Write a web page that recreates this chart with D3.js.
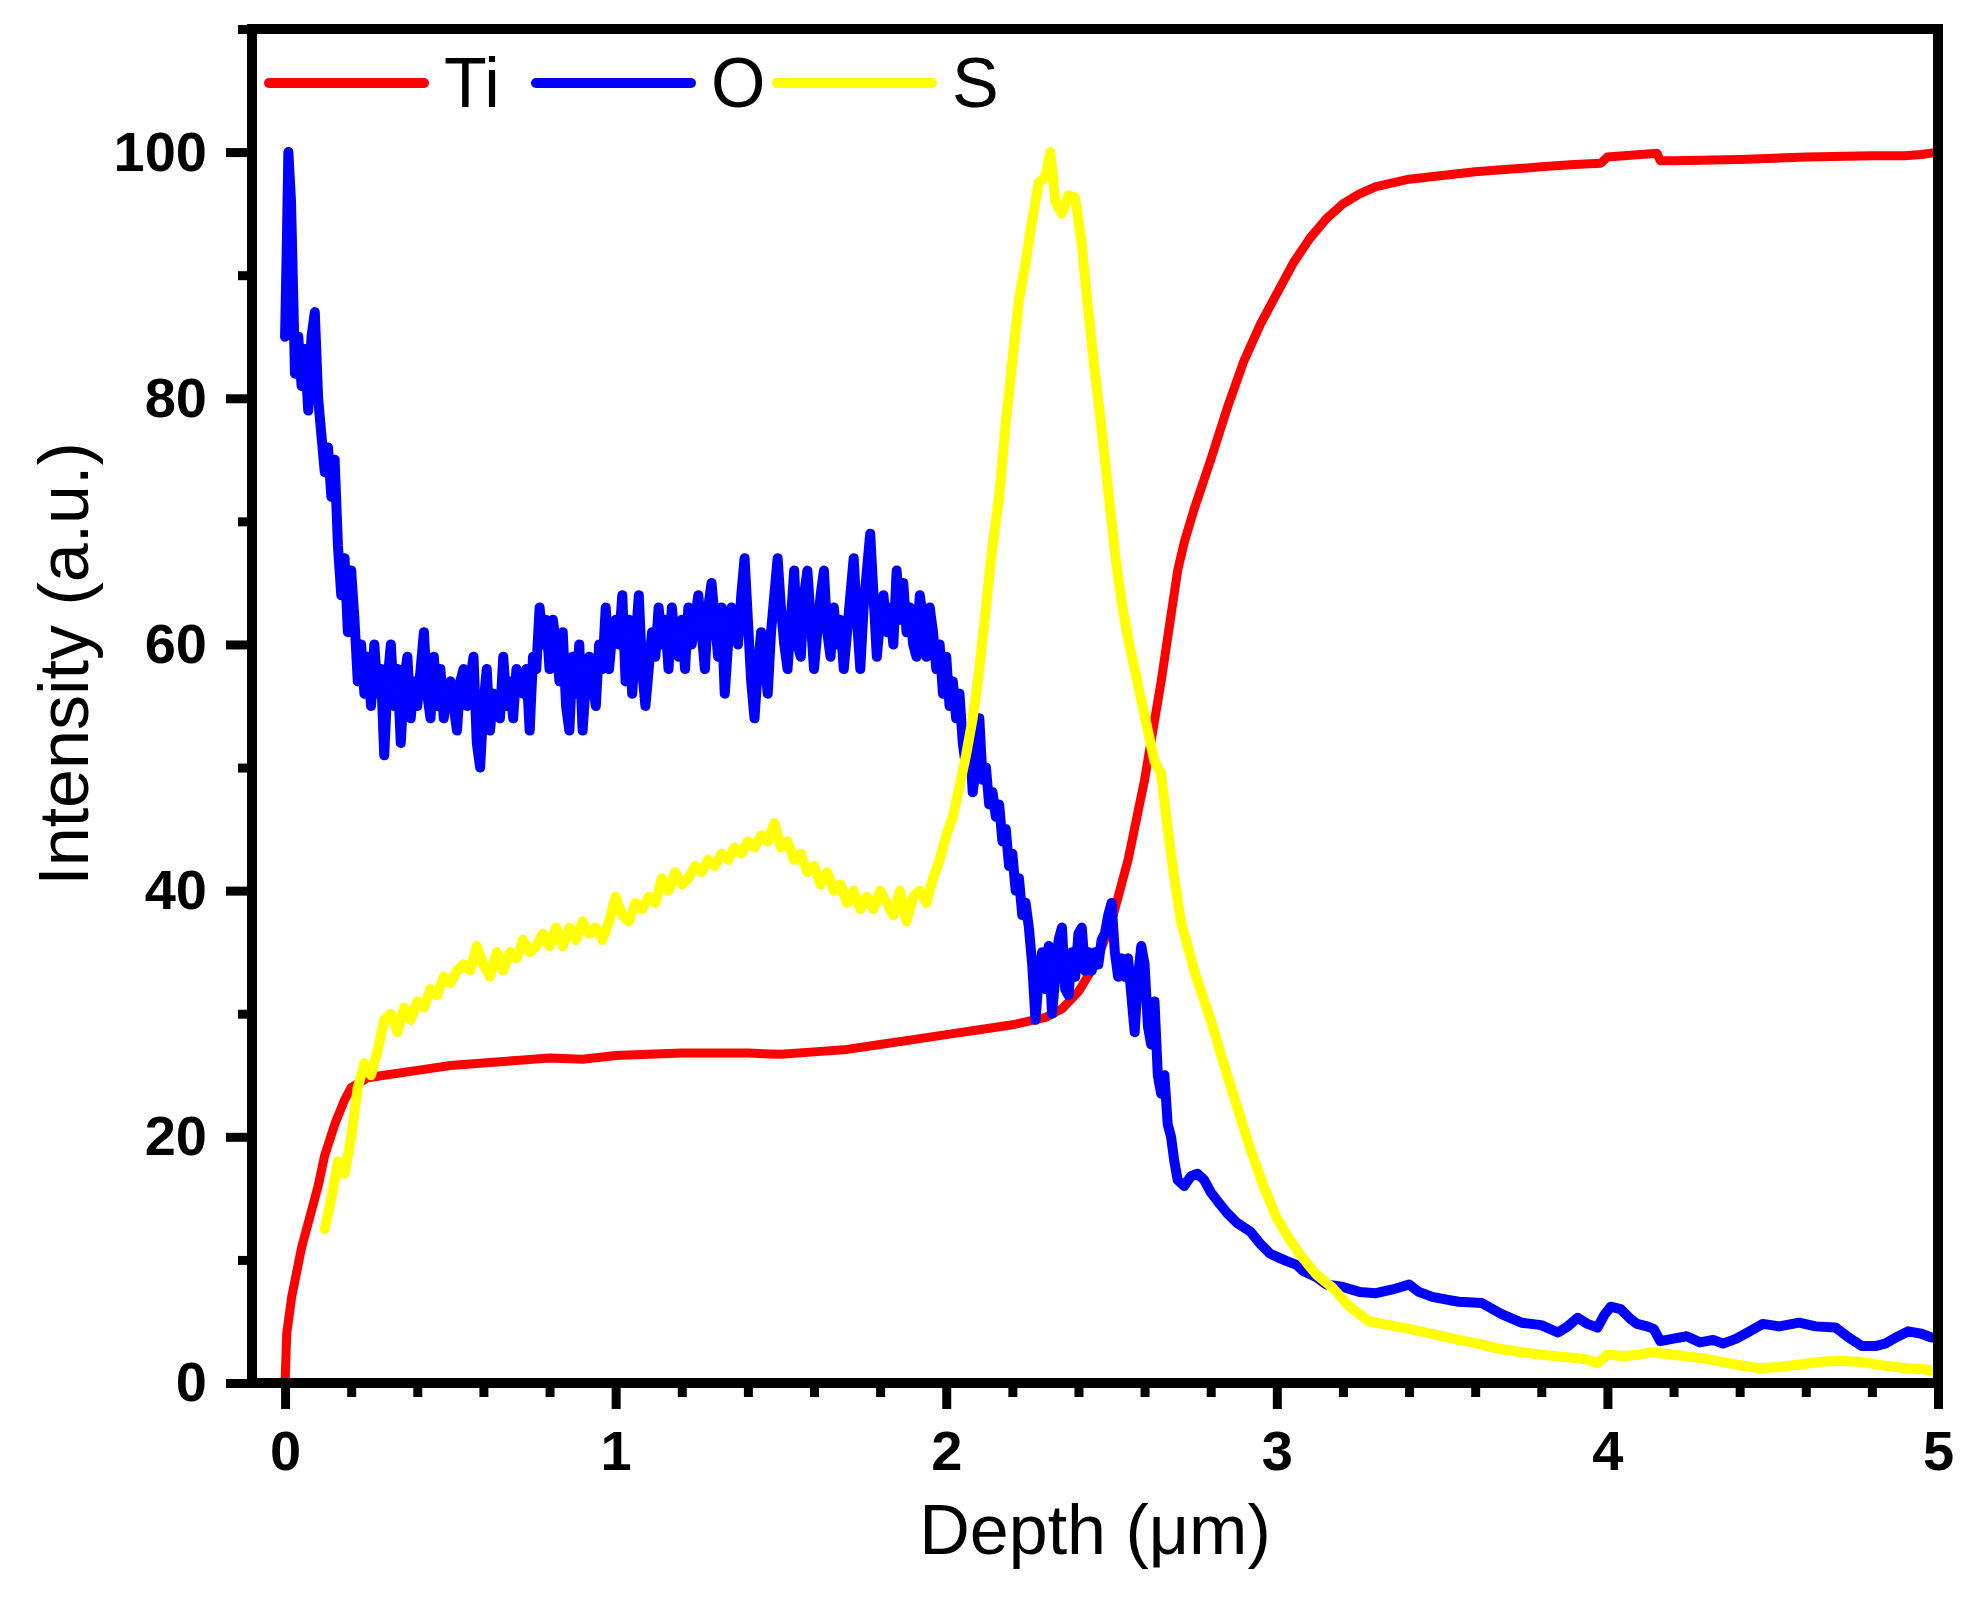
<!DOCTYPE html>
<html>
<head>
<meta charset="utf-8">
<script src="https://cdn.jsdelivr.net/npm/d3@7/dist/d3.min.js"></script>
<style>
  body { margin: 0; background: #fff; }
  svg { display: block; }
  text { font-family: "Liberation Sans", Arial, sans-serif; fill: #000; }
</style>
</head>
<body>
<script>
// Depth profile values: [depth (um), intensity (a.u.)]
const titanium = [
  [0, 0], [0.005, 4], [0.02, 7], [0.05, 11], [0.08, 14], [0.1, 16], [0.12, 18.5],
  [0.15, 21], [0.18, 23], [0.2, 24], [0.25, 24.8], [0.3, 25], [0.4, 25.4], [0.5, 25.8],
  [0.6, 26], [0.7, 26.2], [0.8, 26.4], [0.9, 26.3], [1.0, 26.6], [1.2, 26.8], [1.4, 26.8],
  [1.5, 26.7], [1.6, 26.9], [1.7, 27.1], [1.8, 27.5], [1.9, 27.9], [2.0, 28.3], [2.1, 28.7],
  [2.2, 29.1], [2.25, 29.4], [2.3, 29.7], [2.35, 30.4], [2.4, 31.8], [2.45, 34],
  [2.5, 37.5], [2.55, 42.5], [2.6, 49], [2.65, 57], [2.7, 66], [2.72, 68.3], [2.75, 71],
  [2.8, 75], [2.85, 79.2], [2.9, 83], [2.95, 86], [3.0, 88.5], [3.05, 91], [3.1, 93],
  [3.15, 94.6], [3.2, 95.8], [3.25, 96.6], [3.3, 97.2], [3.4, 97.8], [3.5, 98.1],
  [3.6, 98.4], [3.7, 98.6], [3.8, 98.8], [3.9, 99], [3.98, 99.1], [4.0, 99.6], [4.1, 99.8],
  [4.15, 99.9], [4.16, 99.3], [4.2, 99.3], [4.4, 99.4], [4.6, 99.6], [4.8, 99.7],
  [4.9, 99.7], [4.95, 99.8], [5.0, 100]
];

const oxygen = [
  [0, 85], [0.005, 92], [0.01, 100], [0.018, 96], [0.025, 88], [0.03, 82], [0.04, 85],
  [0.05, 81], [0.06, 84], [0.07, 79], [0.08, 85], [0.09, 87], [0.1, 80], [0.11, 77],
  [0.12, 74], [0.13, 76], [0.14, 72], [0.15, 75], [0.16, 68], [0.17, 64], [0.18, 67],
  [0.19, 61], [0.2, 66], [0.21, 62], [0.22, 57], [0.23, 60], [0.24, 56], [0.25, 59],
  [0.26, 55], [0.27, 60], [0.28, 56], [0.29, 58], [0.3, 51], [0.31, 57], [0.32, 60],
  [0.33, 55], [0.34, 58], [0.35, 52], [0.36, 57], [0.37, 59], [0.38, 54], [0.39, 57],
  [0.4, 55], [0.41, 58], [0.42, 61], [0.43, 56], [0.44, 54], [0.45, 59], [0.46, 55],
  [0.47, 58], [0.48, 54], [0.49, 56], [0.5, 57], [0.51, 55], [0.52, 53], [0.53, 57],
  [0.54, 58], [0.55, 55], [0.56, 57], [0.57, 59], [0.58, 52], [0.59, 50], [0.6, 55],
  [0.61, 58], [0.62, 53], [0.63, 56], [0.64, 55], [0.65, 54], [0.66, 59], [0.67, 55],
  [0.68, 57], [0.69, 54], [0.7, 58], [0.71, 57], [0.72, 56], [0.73, 58], [0.74, 53],
  [0.75, 59], [0.76, 58], [0.77, 63], [0.78, 60], [0.79, 62], [0.8, 58], [0.81, 62],
  [0.82, 60], [0.83, 57], [0.84, 61], [0.85, 55], [0.86, 53], [0.87, 59], [0.88, 56],
  [0.89, 60], [0.9, 53], [0.91, 57], [0.92, 59], [0.93, 57], [0.94, 55], [0.95, 60],
  [0.96, 58], [0.97, 63], [0.98, 58], [0.99, 61], [1.0, 62], [1.01, 60], [1.02, 64],
  [1.03, 57], [1.04, 62], [1.05, 56], [1.06, 60], [1.07, 64], [1.08, 58], [1.09, 55],
  [1.1, 58], [1.11, 61], [1.12, 59], [1.13, 63], [1.14, 60], [1.15, 62], [1.16, 58],
  [1.17, 63], [1.18, 60], [1.19, 59], [1.2, 62], [1.21, 58], [1.22, 63], [1.23, 60],
  [1.24, 62], [1.25, 64], [1.26, 61], [1.27, 58], [1.28, 63], [1.29, 65], [1.3, 62],
  [1.31, 59], [1.32, 63], [1.33, 56], [1.34, 60], [1.35, 63], [1.36, 62], [1.37, 60],
  [1.38, 64], [1.39, 67], [1.4, 62], [1.41, 57], [1.42, 54], [1.43, 58], [1.44, 61],
  [1.45, 59], [1.46, 56], [1.47, 61], [1.48, 64], [1.49, 67], [1.5, 63], [1.51, 60],
  [1.52, 58], [1.53, 62], [1.54, 66], [1.55, 60], [1.56, 59], [1.57, 64], [1.58, 66],
  [1.59, 62], [1.6, 58], [1.61, 61], [1.62, 64], [1.63, 66], [1.64, 61], [1.65, 59],
  [1.66, 63], [1.67, 60], [1.68, 62], [1.69, 58], [1.7, 61], [1.71, 64], [1.72, 67],
  [1.73, 62], [1.74, 58], [1.75, 63], [1.76, 66], [1.77, 69], [1.78, 64], [1.79, 59],
  [1.8, 62], [1.81, 64], [1.82, 61], [1.83, 63], [1.84, 60], [1.85, 66], [1.86, 62],
  [1.87, 65], [1.88, 61], [1.89, 63], [1.9, 60], [1.91, 59], [1.92, 64], [1.93, 62],
  [1.94, 59], [1.95, 63], [1.96, 61], [1.97, 58], [1.98, 60], [1.99, 56], [2.0, 59],
  [2.01, 55], [2.02, 57], [2.03, 54], [2.04, 56], [2.05, 52], [2.06, 50], [2.07, 53],
  [2.08, 48], [2.09, 50], [2.1, 54], [2.11, 49], [2.12, 50], [2.13, 47], [2.14, 48],
  [2.15, 46], [2.16, 47], [2.17, 44], [2.18, 45], [2.19, 42], [2.2, 43], [2.21, 40],
  [2.22, 41], [2.23, 38], [2.24, 39], [2.25, 37], [2.26, 34], [2.27, 29.5], [2.28, 33],
  [2.29, 35], [2.3, 32], [2.31, 35.5], [2.32, 30], [2.33, 33], [2.34, 36], [2.35, 37],
  [2.36, 32], [2.37, 31.5], [2.38, 35], [2.39, 33], [2.4, 36.5], [2.41, 37], [2.42, 33.5],
  [2.43, 35], [2.44, 33.5], [2.45, 35], [2.46, 34], [2.47, 36], [2.48, 36.5], [2.49, 38],
  [2.5, 39], [2.51, 35], [2.52, 33], [2.53, 34.5], [2.54, 33], [2.55, 34.5], [2.56, 31.5],
  [2.57, 28.5], [2.58, 33], [2.59, 35.5], [2.6, 34], [2.61, 29], [2.62, 27.5], [2.63, 31],
  [2.64, 25], [2.65, 23.5], [2.66, 25], [2.67, 21], [2.68, 20], [2.69, 18], [2.7, 16.5],
  [2.72, 16], [2.74, 16.8], [2.76, 17], [2.78, 16.5], [2.8, 15.5], [2.82, 14.8],
  [2.85, 13.8], [2.88, 13], [2.92, 12.3], [2.95, 11.3], [2.98, 10.5], [3.03, 9.9],
  [3.06, 9.6], [3.08, 9.1], [3.12, 8.6], [3.15, 8], [3.2, 7.8], [3.25, 7.4], [3.3, 7.3],
  [3.35, 7.6], [3.4, 8], [3.43, 7.4], [3.47, 7], [3.51, 6.8], [3.55, 6.6], [3.62, 6.5],
  [3.68, 5.6], [3.74, 4.9], [3.8, 4.7], [3.85, 4.1], [3.88, 4.6], [3.91, 5.3],
  [3.94, 4.8], [3.97, 4.5], [3.99, 5.5], [4.01, 6.2], [4.04, 6], [4.07, 5.2], [4.09, 4.8],
  [4.12, 4.6], [4.14, 4.4], [4.16, 3.4], [4.2, 3.6], [4.24, 3.8], [4.28, 3.3],
  [4.32, 3.5], [4.35, 3.2], [4.39, 3.6], [4.43, 4.2], [4.47, 4.8], [4.52, 4.6],
  [4.58, 4.9], [4.63, 4.6], [4.69, 4.5], [4.73, 3.7], [4.77, 3], [4.81, 3], [4.84, 3.2],
  [4.88, 3.8], [4.91, 4.2], [4.95, 4], [4.98, 3.7], [5.0, 3.6]
];

const sulfur = [
  [0.12, 12.5], [0.14, 15], [0.16, 18], [0.18, 17], [0.2, 20], [0.22, 24], [0.24, 26],
  [0.26, 25], [0.28, 27], [0.3, 29.5], [0.32, 30], [0.34, 28.5], [0.36, 30.5], [0.38, 29.5],
  [0.4, 31], [0.42, 30.5], [0.44, 32], [0.46, 31.5], [0.48, 33], [0.5, 32.5], [0.52, 33.5],
  [0.54, 34], [0.56, 33.5], [0.58, 35.5], [0.6, 34], [0.62, 33], [0.64, 35], [0.66, 33.5],
  [0.68, 35], [0.7, 34.5], [0.72, 36], [0.74, 35], [0.76, 35.5], [0.78, 36.5], [0.8, 35.5],
  [0.82, 37], [0.84, 35.5], [0.86, 37], [0.88, 36], [0.9, 37.5], [0.92, 36.5], [0.94, 37],
  [0.96, 36], [0.98, 37.5], [1.0, 39.5], [1.02, 38], [1.04, 37.5], [1.06, 39], [1.08, 38.5],
  [1.1, 39.5], [1.12, 39], [1.14, 41], [1.16, 40], [1.18, 41.5], [1.2, 40.5], [1.22, 41],
  [1.24, 42], [1.26, 41.5], [1.28, 42.5], [1.3, 42], [1.32, 43], [1.34, 42.5], [1.36, 43.5],
  [1.38, 43], [1.4, 44], [1.42, 43.5], [1.44, 44.5], [1.46, 44], [1.48, 45.5], [1.5, 43.5],
  [1.52, 44], [1.54, 42.5], [1.56, 43], [1.58, 41.5], [1.6, 42], [1.62, 40.5], [1.64, 41.5],
  [1.66, 40], [1.68, 40.5], [1.7, 39], [1.72, 40], [1.74, 38.5], [1.76, 39.5], [1.78, 38.5],
  [1.8, 40], [1.82, 39], [1.84, 38], [1.86, 40], [1.88, 37.5], [1.9, 39.5], [1.92, 40],
  [1.94, 39], [1.96, 41], [1.98, 42.5], [2.0, 44.5], [2.02, 46], [2.04, 48.5], [2.06, 51],
  [2.08, 54], [2.1, 58], [2.12, 63], [2.14, 68], [2.16, 72], [2.18, 78], [2.2, 83],
  [2.22, 88], [2.24, 91], [2.26, 94.5], [2.28, 97.5], [2.3, 98], [2.315, 100], [2.33, 96],
  [2.35, 95], [2.37, 96.5], [2.39, 96.3], [2.41, 92.5], [2.43, 87], [2.45, 82], [2.47, 77.5],
  [2.49, 72.5], [2.51, 67.5], [2.53, 63.5], [2.55, 60.5], [2.57, 58], [2.59, 55.5],
  [2.61, 53], [2.63, 50.5], [2.65, 49.5], [2.67, 45], [2.69, 41], [2.71, 37.5], [2.73, 35.5],
  [2.75, 33.5], [2.8, 29.5], [2.85, 25], [2.92, 19], [2.96, 16], [3.0, 13.4], [3.04, 11.6],
  [3.08, 10.1], [3.12, 8.8], [3.17, 7.7], [3.22, 6.2], [3.28, 5], [3.34, 4.7], [3.4, 4.4],
  [3.5, 3.8], [3.55, 3.5], [3.61, 3.2], [3.67, 2.8], [3.74, 2.5], [3.8, 2.3], [3.88, 2.1],
  [3.94, 1.9], [3.97, 1.6], [4.0, 2.3], [4.05, 2.2], [4.1, 2.3], [4.13, 2.5], [4.2, 2.3],
  [4.29, 2], [4.35, 1.7], [4.41, 1.4], [4.46, 1.2], [4.52, 1.3], [4.58, 1.5], [4.64, 1.7],
  [4.7, 1.8], [4.77, 1.7], [4.84, 1.4], [4.91, 1.2], [4.96, 1.1], [5.0, 1]
];

const seriesNames = ['Ti', 'O', 'S'];
const seriesColors = ['#ff0000', '#0000ff', '#ffff00'];
const xMajorTicks = [0, 1, 2, 3, 4, 5];
const xMinorTicks = [0.2, 0.4, 0.6, 0.8, 1.2, 1.4, 1.6, 1.8, 2.2, 2.4, 2.6, 2.8,
                     3.2, 3.4, 3.6, 3.8, 4.2, 4.4, 4.6, 4.8];
const yMajorTicks = [0, 20, 40, 60, 80, 100];
const yMinorTicks = [10, 30, 50, 70, 90, 110];

const W = 1973, H = 1598;
const margin = {left: 252, right: 35, top: 29, bottom: 215};

function drawChart() {
  const svg = d3.select('body').append('svg')
    .attr('width', W)
    .attr('height', H);

  const x = d3.scaleLinear().domain([-0.1, 5]).range([margin.left, W - margin.right]);
  const y = d3.scaleLinear().domain([0, 110]).range([H - margin.bottom, margin.top]);

  // curves, drawn Ti -> O -> S like the legend
  const line = d3.line().x(d => x(d[0])).y(d => y(d[1]));
  const widths = [9, 10, 10];
  [titanium, oxygen, sulfur].forEach((data, i) => {
    svg.append('path')
      .datum(data)
      .attr('d', line)
      .attr('fill', 'none')
      .attr('stroke', seriesColors[i])
      .attr('stroke-width', widths[i])
      .attr('stroke-linejoin', 'round')
      .attr('stroke-linecap', 'round');
  });

  // frame
  svg.append('rect')
    .attr('x', x.range()[0])
    .attr('y', y.range()[1])
    .attr('width', x.range()[1] - x.range()[0])
    .attr('height', y.range()[0] - y.range()[1])
    .attr('fill', 'none')
    .attr('stroke', '#000')
    .attr('stroke-width', 10);

  // axes
  svg.append('g')
    .attr('transform', `translate(0,${y(0)})`)
    .call(d3.axisBottom(x).tickValues(xMajorTicks).tickSize(26).tickPadding(21)
      .tickFormat(d3.format('d')));
  svg.append('g')
    .attr('transform', `translate(0,${y(0)})`)
    .call(d3.axisBottom(x).tickValues(xMinorTicks).tickSize(14).tickFormat(''));

  svg.append('g')
    .attr('transform', `translate(${x(-0.1)},0)`)
    .call(d3.axisLeft(y).tickValues(yMajorTicks).tickSize(26).tickPadding(19)
      .tickFormat(d3.format('d')));
  svg.append('g')
    .attr('transform', `translate(${x(-0.1)},0)`)
    .call(d3.axisLeft(y).tickValues(yMinorTicks).tickSize(14).tickFormat(''));

  svg.selectAll('.domain').remove();
  svg.selectAll('.tick line').attr('stroke', '#000').attr('stroke-width', 9);
  svg.selectAll('.tick text')
    .attr('fill', '#000')
    .style('font-family', '"Liberation Sans", Arial, sans-serif')
    .style('font-size', '56px')
    .style('font-weight', 'bold');

  // axis titles
  svg.append('text')
    .attr('x', (x.range()[0] + x.range()[1]) / 2)
    .attr('y', 1554)
    .attr('text-anchor', 'middle')
    .style('font-size', '70px')
    .text('Depth (μm)');

  svg.append('text')
    .attr('transform', 'translate(88,664) rotate(-90)')
    .attr('text-anchor', 'middle')
    .style('font-size', '70px')
    .text('Intensity (a.u.)');

  // legend
  const legendX = [269, 536, 777];
  const legendLen = 155;
  const legendY = 83;
  seriesNames.forEach((name, i) => {
    const g = svg.append('g').attr('transform', `translate(${legendX[i]},${legendY})`);
    g.append('line')
      .attr('x1', 0).attr('x2', legendLen)
      .attr('stroke', seriesColors[i])
      .attr('stroke-width', 10)
      .attr('stroke-linecap', 'round');
    g.append('text')
      .attr('x', legendLen + 20)
      .attr('y', 24)
      .style('font-size', '70px')
      .text(name);
  });
}

drawChart();
</script>
</body>
</html>
